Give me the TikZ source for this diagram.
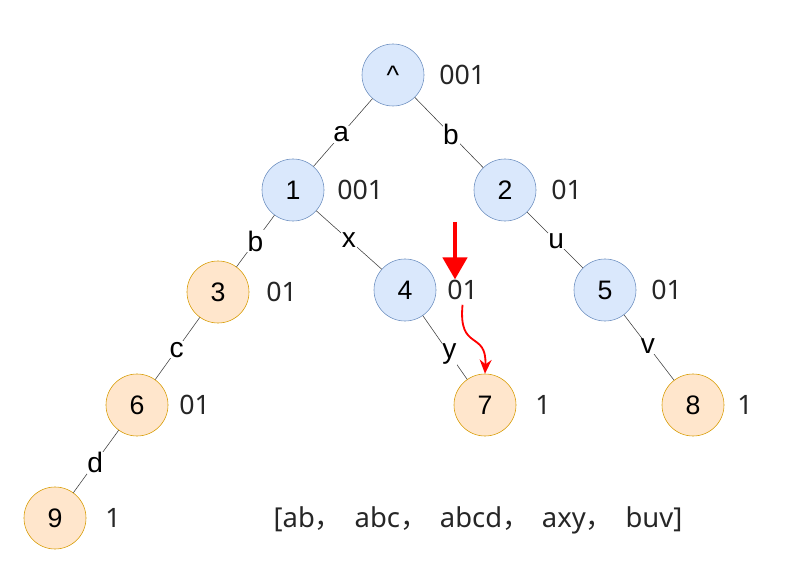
\documentclass[tikz,border=0pt]{standalone}
\usepackage{fontspec}
\setmainfont{Liberation Sans}
\newfontfamily\cjk{Noto Sans CJK SC}
\newfontfamily\countfont{Noto Sans}
\usepackage{tikz}
\usetikzlibrary{arrows.meta,positioning}
\definecolor{innerfill}{HTML}{DAE8FC}
\definecolor{innerdraw}{HTML}{6C8EBF}
\definecolor{leaffill}{HTML}{FFE6CC}
\definecolor{leafdraw}{HTML}{D79B00}
\newcommand{\cm}{{\cjk ，}\hspace{0.45em}}

\begin{document}
\begin{tikzpicture}[
x=0.025cm, y=-0.025cm,
font=\fontsize{19}{22}\selectfont,
inner/.style={circle, draw=innerdraw, fill=innerfill, minimum size=1.55cm, inner sep=0pt},
leaf/.style={circle, draw=leafdraw, fill=leaffill, minimum size=1.55cm, inner sep=0pt},
edge/.style={draw=black!75, thin},
elabel/.style={fill=white, inner sep=0.5pt, font=\fontsize{20}{22}\selectfont},
count/.style={font=\countfont\fontsize{19}{22}\selectfont, text=black!85}
]
    \useasboundingbox (0,0) rectangle (811,584);

    % Draw nodes
    \node[inner] (root) at (393,75) {\^{}};
    \node[inner] (n1) at (293,190) {1};
    \node[inner] (n2) at (505,190) {2};
    \node[leaf] (n3) at (218,292) {3};
    \node[inner] (n4) at (405,290) {4};
    \node[inner] (n5) at (605,290) {5};
    \node[leaf] (n6) at (137,405) {6};
    \node[leaf] (n7) at (485,405) {7};
    \node[leaf] (n8) at (693,405) {8};
    \node[leaf] (n9) at (55,518) {9};

    % Draw edges
    \draw[edge] (root) -- node[elabel, pos=0.53]{a} (n1);
    \draw[edge] (root) -- node[elabel, pos=0.53]{b} (n2);
    \draw[edge] (n1) -- node[elabel, pos=0.5]{b} (n3);
    \draw[edge] (n1) -- node[elabel, pos=0.5]{x} (n4);
    \draw[edge] (n2) -- node[elabel, pos=0.52]{u} (n5);
    \draw[edge] (n3) -- node[elabel, pos=0.52]{c} (n6);
    \draw[edge] (n4) -- node[elabel, pos=0.6]{y} (n7);
    \draw[edge] (n5) -- node[elabel, pos=0.48]{v} (n8);
    \draw[edge] (n6) -- node[elabel, pos=0.52]{d} (n9);

    % Draw counts
    \node[count, right=0.25cm of root] (c0) {001};
    \node[count, right=0.2cm of n1] (c1) {001};
    \node[count, right=0.25cm of n2] (c2) {01};
    \node[count, right=0.3cm of n3] (c3) {01};
    \node[count, right=0.15cm of n4] (c4) {01};
    \node[count, right=0.25cm of n5] (c5) {01};
    \node[count, right=0.15cm of n6] (c6) {01};
    \node[count, right=0.35cm of n7] (c7) {1};
    \node[count, right=0.2cm of n8] (c8) {1};
    \node[count, right=0.35cm of n9] (c9) {1};

    % Draw list
    \node[font=\countfont\fontsize{19.5}{22}\selectfont, text=black!85] (list) at (478,520)
      {[ab\cm abc\cm abcd\cm axy\cm buv]};

    % Draw pointers
    \coordinate (top) at (455,222);
    \draw[red, line width=3.2pt, -{Triangle[length=0.55cm, width=0.6cm]}] (top) -- ([yshift=-3pt]top |- c4.north);
    \draw[red, line width=1.3pt, -{Stealth[length=0.35cm, width=0.3cm]}]
      (c4.south) .. controls (458,352) and (487,330) .. (n7.north);

\end{tikzpicture}
\end{document}
